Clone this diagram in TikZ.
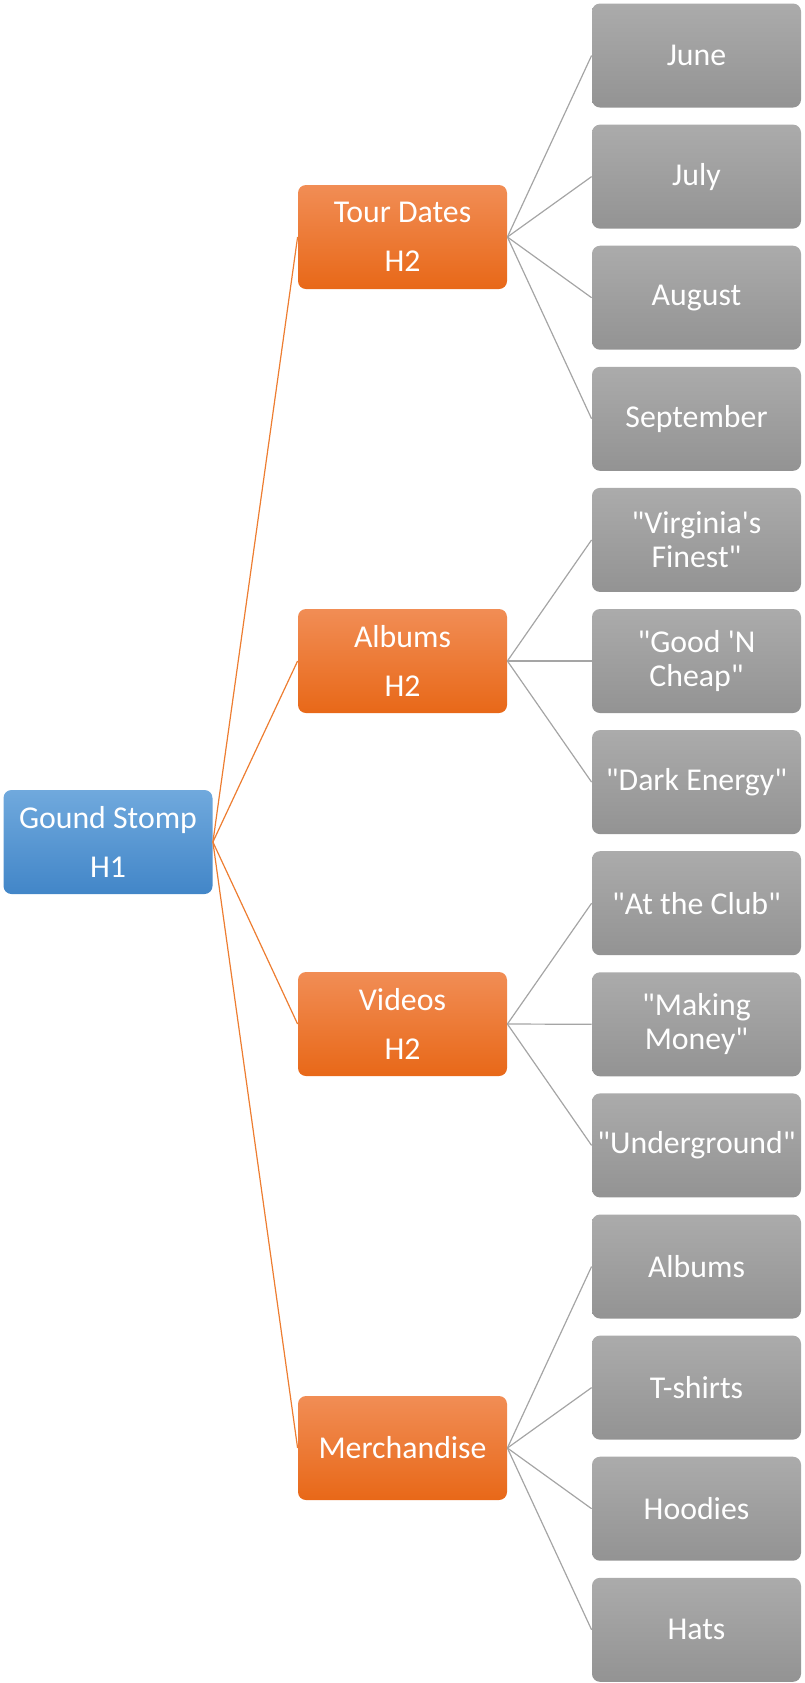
\documentclass[tikz,border=0pt]{standalone}
\usepackage{fontspec}
\setmainfont{Carlito}
\definecolor{rootTop}{RGB}{112,169,221}
\definecolor{rootBot}{RGB}{66,134,200}
\definecolor{midTop}{RGB}{241,141,85}
\definecolor{midBot}{RGB}{232,104,24}
\definecolor{leafTop}{RGB}{171,171,171}
\definecolor{leafBot}{RGB}{147,147,147}
\definecolor{orangeLine}{RGB}{237,125,49}
\definecolor{grayLine}{RGB}{165,165,165}
\newcommand{\dq}{\textquotedbl}
\newcommand{\sq}{\textquotesingle}
\begin{document}
\begin{tikzpicture}[x=0.5pt,y=-0.5pt,
  box/.style={rounded corners=4pt,minimum width=104.5pt,minimum height=52pt,
    inner sep=0pt,text=white,align=center},
  rootbox/.style={box,top color=rootTop,bottom color=rootBot,
    font=\fontsize{15.9}{24.5}\selectfont},
  midbox/.style={box,top color=midTop,bottom color=midBot,
    font=\fontsize{15.9}{24.5}\selectfont},
  leafbox/.style={box,top color=leafTop,bottom color=leafBot,
    font=\fontsize{15.9}{17}\selectfont},
  olink/.style={draw=orangeLine,line width=0.6pt},
  glink/.style={draw=grayLine,line width=0.6pt}]
\useasboundingbox (0,0) rectangle (804,1683);
% root
\node[rootbox] (gs) at (108,842) {Gound Stomp\\H1};
% level two
\node[midbox] (tour) at (402.5,237) {Tour Dates\\H2};
\node[midbox] (albums) at (402.5,661) {Albums\\H2};
\node[midbox] (videos) at (402.5,1024) {Videos\\H2};
\node[midbox] (merch) at (402.5,1448) {Merchandise};
% leaves
\foreach \name/\txt [count=\i from 0] in {jun/June, jul/July, aug/August,
    sep/September, vf/{\dq Virginia\sq s\\Finest\dq},
    gnc/{\dq Good \sq N\\Cheap\dq}, de/{\dq Dark Energy\dq},
    atc/{\dq At the Club\dq}, mm/{\dq Making\\Money\dq}, ug/{\dq Underground\dq},
    alb/Albums, tsh/T-shirts, hoo/Hoodies, hat/Hats}
  \node[leafbox] (\name) at (696.5,55.5+121.1*\i) {\txt};
% links
\foreach \b in {tour,albums,videos,merch}
  \draw[olink] (gs.east) -- (\b.west);
\foreach \a/\b in {tour/jun, tour/jul, tour/aug, tour/sep,
    albums/vf, albums/gnc, albums/de, videos/atc, videos/mm, videos/ug,
    merch/alb, merch/tsh, merch/hoo, merch/hat}
  \draw[glink] (\a.east) -- (\b.west);
\end{tikzpicture}
\end{document}
